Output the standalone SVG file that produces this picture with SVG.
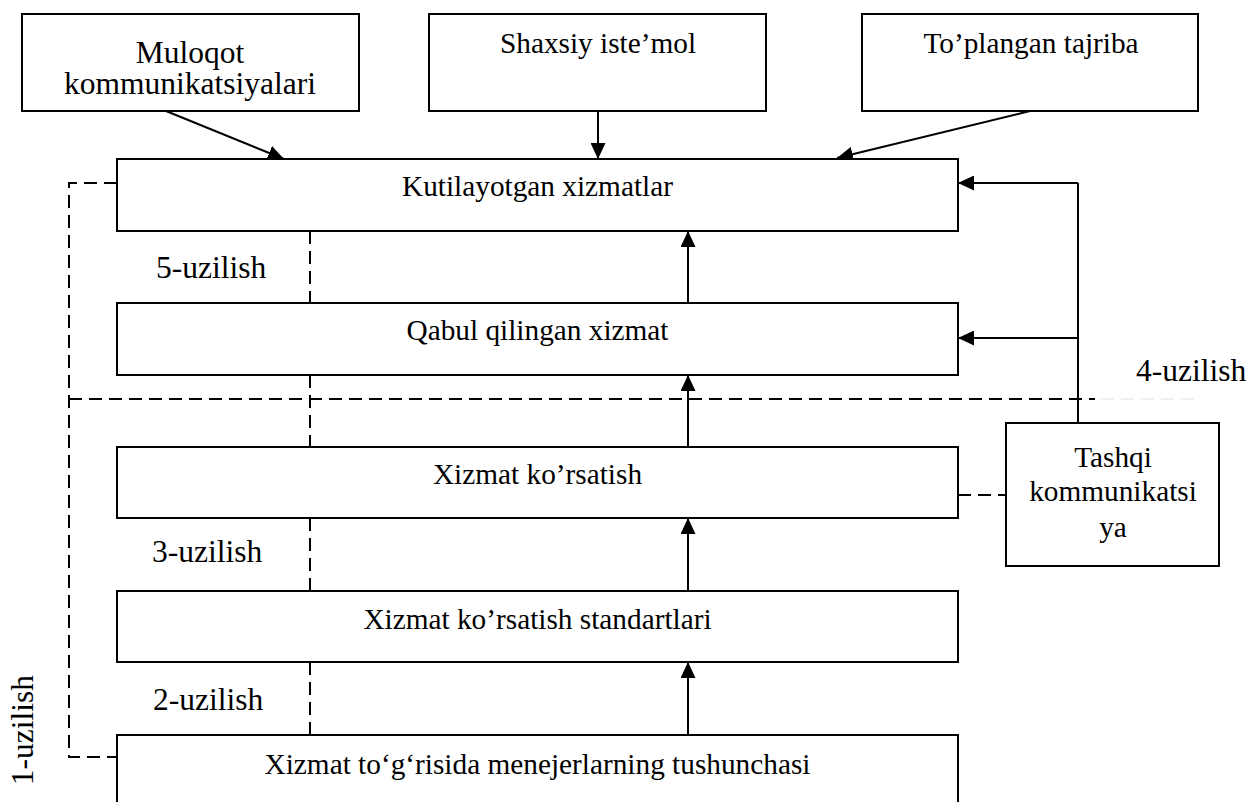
<svg xmlns="http://www.w3.org/2000/svg" width="1250" height="802" viewBox="0 0 1250 802">
  <style>
    .box { fill: #fff; stroke: #000; stroke-width: 2; }
    .lbl { font-family: "Liberation Serif", "Times New Roman", serif; font-size: 31.5px; fill: #000; }
    .sm { font-size: 29.3px; }
    .mid { text-anchor: middle; }
    .arrow { fill: none; stroke: #000; stroke-width: 2; marker-end: url(#head); }
    .line { fill: none; stroke: #000; stroke-width: 2; }
    .dash { fill: none; stroke: #000; stroke-width: 2; stroke-dasharray: 13 7; }
  </style>
  <defs>
    <marker id="head" viewBox="0 0 16 15" refX="16" refY="7.5" markerWidth="16" markerHeight="15" markerUnits="userSpaceOnUse" orient="auto">
      <path d="M0,0 L16,7.5 L0,15 Z" fill="#000"/>
    </marker>
  </defs>
  <rect width="1250" height="802" fill="#fff"/>

  <!-- connectors -->
  <g id="connectors">
    <line class="arrow" x1="166" y1="111" x2="284" y2="159"/>
    <line class="arrow" x1="598" y1="111" x2="598" y2="159"/>
    <line class="arrow" x1="1030" y1="111" x2="837" y2="158"/>

    <line class="arrow" x1="688" y1="303" x2="688" y2="231"/>
    <line class="arrow" x1="688" y1="447" x2="688" y2="375"/>
    <line class="arrow" x1="688" y1="591" x2="688" y2="518"/>
    <line class="arrow" x1="688" y1="735" x2="688" y2="662"/>

    <polyline class="line" points="1078,422 1078,183"/>
    <line class="arrow" x1="1078" y1="183" x2="958" y2="183"/>
    <line class="arrow" x1="1078" y1="338" x2="958" y2="338"/>
    <line class="dash" x1="958" y1="495" x2="1006" y2="495"/>

    <!-- gaps -->
    <polyline class="dash" points="117,183 69,183 69,757 117,757"/>
    <line class="dash" x1="69" y1="399" x2="1095" y2="399"/>
    <line fill="none" stroke="#ececec" stroke-width="1.6" stroke-dasharray="13 7" x1="1101" y1="399" x2="1198" y2="399"/>
    <line class="dash" x1="310" y1="231" x2="310" y2="303"/>
    <line class="dash" x1="310" y1="375" x2="310" y2="447"/>
    <line class="dash" x1="310" y1="518" x2="310" y2="591"/>
    <line class="dash" x1="310" y1="662" x2="310" y2="735"/>
  </g>

  <!-- source boxes -->
  <g id="muloqot">
    <rect class="box" x="22" y="14" width="337" height="97"/>
    <text class="lbl mid" x="190" y="63">Muloqot</text>
    <text class="lbl mid" x="190" y="94">kommunikatsiyalari</text>
  </g>
  <g id="shaxsiy">
    <rect class="box" x="429" y="14" width="337" height="97"/>
    <text class="lbl sm mid" x="598" y="53">Shaxsiy iste’mol</text>
  </g>
  <g id="toplangan">
    <rect class="box" x="862" y="14" width="336" height="97"/>
    <text class="lbl sm mid" x="1031" y="53">To’plangan tajriba</text>
  </g>

  <!-- main chain -->
  <g id="kutilayotgan">
    <rect class="box" x="117" y="159" width="841" height="72"/>
    <text class="lbl sm mid" x="537.5" y="196">Kutilayotgan xizmatlar</text>
  </g>
  <g id="qabul">
    <rect class="box" x="117" y="303" width="841" height="72"/>
    <text class="lbl sm mid" x="537.5" y="340">Qabul qilingan xizmat</text>
  </g>
  <g id="korsatish">
    <rect class="box" x="117" y="447" width="841" height="71"/>
    <text class="lbl sm mid" x="537.5" y="484">Xizmat ko’rsatish</text>
  </g>
  <g id="standartlar">
    <rect class="box" x="117" y="591" width="841" height="71"/>
    <text class="lbl sm mid" x="537.5" y="629">Xizmat ko’rsatish standartlari</text>
  </g>
  <g id="tushuncha">
    <rect class="box" x="117" y="735" width="841" height="80"/>
    <text class="lbl sm mid" x="537.5" y="774">Xizmat to‘g‘risida menejerlarning tushunchasi</text>
  </g>

  <g id="tashqi">
    <rect class="box" x="1006" y="423" width="213" height="143"/>
    <text class="lbl sm mid" x="1113" y="467">Tashqi</text>
    <text class="lbl sm mid" x="1113" y="501">kommunikatsi</text>
    <text class="lbl sm mid" x="1113" y="537">ya</text>
  </g>

  <!-- gap labels -->
  <g id="gap-labels">
    <text class="lbl" x="156" y="278">5-uzilish</text>
    <text class="lbl" x="1136" y="381">4-uzilish</text>
    <text class="lbl" x="152" y="562">3-uzilish</text>
    <text class="lbl" x="153" y="710">2-uzilish</text>
    <text class="lbl mid" x="33" y="730" transform="rotate(-90 33 730)">1-uzilish</text>
  </g>
</svg>
